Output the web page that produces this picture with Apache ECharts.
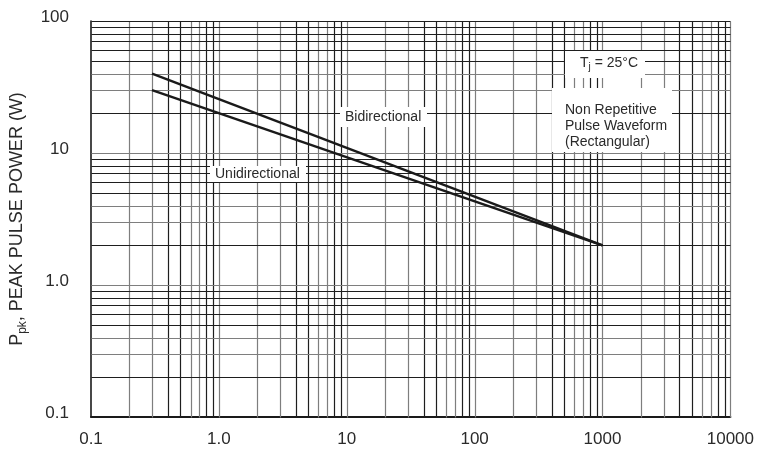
<!DOCTYPE html>
<html>
<head>
<meta charset="utf-8">
<script src="https://cdn.jsdelivr.net/npm/echarts@6/dist/echarts.min.js"></script>
<style>
  html, body { margin: 0; padding: 0; background: #fff; }
  #chart { width: 757px; height: 451px; }
</style>
</head>
<body>
<div id="chart"></div>
<script>
// Peak pulse power versus pulse width (log-log)
const xMin = 0.1, xMax = 10000;
const yMin = 0.1, yMax = 100;
const xTickLabels = { '0.1': '0.1', '1': '1.0', '10': '10', '100': '100', '1000': '1000', '10000': '10000' };
const yTickLabels = { '0.1': '0.1', '1': '1.0', '10': '10', '100': '100' };

// Curves: [pulse width, peak power W]
const bidirectional = [[0.3, 40], [1000, 2]];
const unidirectional = [[0.3, 30], [1000, 2]];

// Log-paper rulings: decade starts and 2..9 subdivisions
const xDecades = [0.1, 1, 10, 100, 1000];
const yDecades = [0.1, 1, 10];
const GRAY = '#7e7e7e', DARK = '#1e1e1e';
const xTone = { 1: GRAY, 2: GRAY, 3: GRAY, 4: DARK, 5: DARK, 6: GRAY, 7: GRAY, 8: DARK, 9: DARK };
const yTone = { 1: GRAY, 2: DARK, 3: GRAY, 4: GRAY, 5: DARK, 6: DARK, 7: DARK, 8: DARK, 9: DARK };

const rulings = [];
xDecades.forEach(d => {
  for (let m = 1; m <= 9; m++) {
    if (d === 0.1 && m === 1) continue;
    rulings.push([+(d * m).toPrecision(6), 1, 0, xTone[m]]);
  }
});
rulings.push([xMax, 1, 0, GRAY]);
yDecades.forEach(d => {
  for (let m = 1; m <= 9; m++) {
    if (d === 0.1 && m === 1) continue;
    rulings.push([1, +(d * m).toPrecision(6), 1, yTone[m]]);
  }
});
rulings.push([1, yMax, 1, DARK]);

const chart = echarts.init(document.getElementById('chart'), null, { renderer: 'canvas' });
const FONT = '"Liberation Sans", Arial, sans-serif';

chart.setOption({
  animation: false,
  backgroundColor: '#fff',
  grid: { left: 90, right: 24, top: 21, bottom: 34 },
  xAxis: {
    type: 'log', logBase: 10, min: xMin, max: xMax,
    axisLine: { show: true, lineStyle: { color: '#1a1a1a', width: 2 } },
    axisTick: { show: false },
    splitLine: { show: false },
    minorSplitLine: { show: false },
    axisLabel: {
      fontFamily: FONT, fontSize: 17, color: '#2a2a2a', margin: 14,
      formatter: v => xTickLabels[String(+v.toPrecision(6))] || ''
    }
  },
  yAxis: {
    type: 'log', logBase: 10, min: yMin, max: yMax,
    axisLine: { show: true, lineStyle: { color: '#1a1a1a', width: 1.6 } },
    axisTick: { show: false },
    splitLine: { show: false },
    axisLabel: {
      margin: 22,
      formatter: v => {
        const t = yTickLabels[String(+v.toPrecision(6))];
        return t ? '{v|' + t + '}' : '';
      },
      rich: {
        v: { fontFamily: FONT, fontSize: 17, color: '#2a2a2a', padding: [0, 0, 7, 0] }
      }
    },
    name: '{a|P}{s|pk}{a|, PEAK PULSE POWER (W)}',
    nameLocation: 'middle',
    nameGap: 62,
    nameRotate: 90,
    nameTextStyle: {
      rich: {
        a: { fontFamily: FONT, fontSize: 18, color: '#2a2a2a' },
        s: { fontFamily: FONT, fontSize: 12, color: '#2a2a2a', padding: [12, 0, 0, 0] }
      }
    }
  },
  graphic: [
    {
      type: 'rect', z: 50, shape: { x: 340, y: 107, width: 87, height: 20 },
      style: { fill: '#fff' }
    },
    {
      type: 'text', z: 51, x: 345, y: 117,
      style: { text: 'Bidirectional', font: '14px ' + FONT, fill: '#2a2a2a', textVerticalAlign: 'middle' }
    },
    {
      type: 'rect', z: 50, shape: { x: 210, y: 166, width: 96, height: 16 },
      style: { fill: '#fff' }
    },
    {
      type: 'text', z: 51, x: 215, y: 174,
      style: { text: 'Unidirectional', font: '14px ' + FONT, fill: '#2a2a2a', textVerticalAlign: 'middle' }
    },
    {
      type: 'rect', z: 50, shape: { x: 565, y: 51, width: 80, height: 27 },
      style: { fill: '#fff' }
    },
    {
      type: 'text', z: 51, x: 580, y: 63,
      style: {
        text: '{t|T}{s|j}{t| = 25°C}',
        verticalAlign: 'middle',
        rich: {
          t: { fontFamily: FONT, fontSize: 14, fill: '#2a2a2a' },
          s: { fontFamily: FONT, fontSize: 10, fill: '#2a2a2a', padding: [9, 0, 0, 0] }
        }
      }
    },
    {
      type: 'rect', z: 50, shape: { x: 552, y: 88, width: 120, height: 64 },
      style: { fill: '#fff' }
    },
    {
      type: 'text', z: 51, x: 565, y: 102,
      style: {
        text: 'Non Repetitive\nPulse Waveform\n(Rectangular)',
        font: '14px ' + FONT, fill: '#2a2a2a', lineHeight: 16
      }
    }
  ],
  series: [
    {
      type: 'custom',
      z: 1,
      silent: true,
      clip: false,
      data: rulings,
      encode: { x: 0, y: 1 },
      renderItem: (params, api) => {
        const vertical = api.value(2) === 0;
        const v = api.value(vertical ? 0 : 1);
        const color = rulings[params.dataIndex][3];
        let p1, p2;
        if (vertical) {
          p1 = api.coord([v, yMin]);
          p2 = api.coord([v, yMax]);
        } else {
          p1 = api.coord([xMin, v]);
          p2 = api.coord([xMax, v]);
        }
        return {
          type: 'line',
          shape: { x1: Math.round(p1[0]) + 0.5, y1: Math.round(p1[1]) + 0.5, x2: Math.round(p2[0]) + 0.5, y2: Math.round(p2[1]) + 0.5 },
          style: { stroke: color, lineWidth: 1.2 }
        };
      }
    },
    {
      name: 'Bidirectional', type: 'line', z: 10, data: bidirectional,
      symbol: 'none', lineStyle: { color: '#1a1a1a', width: 2.4 }
    },
    {
      name: 'Unidirectional', type: 'line', z: 10, data: unidirectional,
      symbol: 'none', lineStyle: { color: '#1a1a1a', width: 2.4 }
    }
  ]
});
</script>
</body>
</html>
